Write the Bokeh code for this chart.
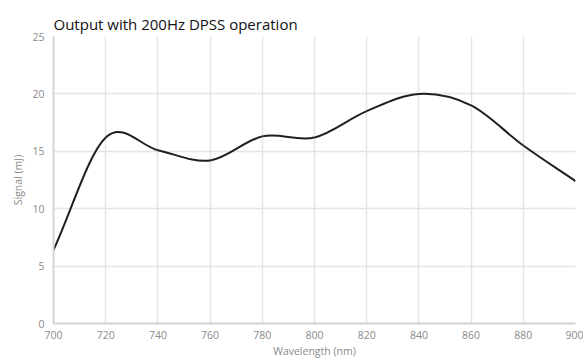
import numpy as np
from bokeh.plotting import figure
from bokeh.models import Range1d, FixedTicker, Title
from bokeh.embed import file_html
from bokeh.resources import INLINE

# Output energy vs wavelength at 200 Hz DPSS pumping
wavelength_nm = [700, 720, 740, 760, 780, 800, 820, 840, 860, 880, 900]
signal_mj = [6.4, 16.2, 15.1, 14.2, 16.3, 16.2, 18.5, 20.0, 19.0, 15.5, 12.4]
x_ticks = [700, 720, 740, 760, 780, 800, 820, 840, 860, 880, 900]
y_ticks = [0, 5, 10, 15, 20, 25]

p = figure(frame_width=522, frame_height=287, output_backend="svg",
           toolbar_location=None,
           x_range=Range1d(700, 900), y_range=Range1d(0, 25),
           min_border_left=53, min_border_right=8, min_border_top=36,
           min_border_bottom=0)

p.title = Title(text="Output with 200Hz DPSS operation", align="left",
                text_font="Open Sans", text_font_size="15px",
                text_font_style="normal", text_color="#111111",
                offset=0, standoff=6)

# smooth curve: cubic Bezier segments with Catmull-Rom tangents
xs = np.array(wavelength_nm, dtype=float)
ys = np.array(signal_mj, dtype=float)
n = len(xs)
mx = np.empty(n)
my = np.empty(n)
mx[1:-1] = (xs[2:] - xs[:-2]) / 2
my[1:-1] = (ys[2:] - ys[:-2]) / 2
mx[0], my[0] = xs[1] - xs[0], ys[1] - ys[0]
mx[-1], my[-1] = xs[-1] - xs[-2], ys[-1] - ys[-2]
p.bezier(x0=xs[:-1], y0=ys[:-1], x1=xs[1:], y1=ys[1:],
         cx0=xs[:-1] + mx[:-1] / 3, cy0=ys[:-1] + my[:-1] / 3,
         cx1=xs[1:] - mx[1:] / 3, cy1=ys[1:] - my[1:] / 3,
         line_color="#1f1f1f", line_width=2)

p.outline_line_color = None
for ax in (p.xaxis[0], p.yaxis[0]):
    ax.major_tick_line_color = None
    ax.minor_tick_line_color = None
    ax.major_tick_out = 0
    ax.major_tick_in = 0
    ax.axis_line_color = "#d4d4d4"
    ax.axis_line_width = 2
    ax.major_label_text_font = "Open Sans"
    ax.major_label_text_font_size = "10.5px"
    ax.major_label_text_color = "#8a8a8a"
    ax.axis_label_text_font = "Open Sans"
    ax.axis_label_text_font_size = "10.5px"
    ax.axis_label_text_font_style = "normal"
    ax.axis_label_text_color = "#8a8a8a"

p.xaxis.ticker = FixedTicker(ticks=x_ticks)
p.yaxis.ticker = FixedTicker(ticks=y_ticks)
p.xaxis.axis_label = "Wavelength (nm)"
p.yaxis.axis_label = "Signal (mJ)"
p.xaxis.major_label_standoff = 7
p.yaxis.major_label_standoff = 9
p.xaxis.axis_label_standoff = 2
p.yaxis.axis_label_standoff = 4

p.xgrid.grid_line_color = "#e4e4e4"
p.ygrid.grid_line_color = "#e4e4e4"
p.xgrid.grid_line_width = 1.5
p.ygrid.grid_line_width = 1.5
p.xgrid.ticker = FixedTicker(ticks=x_ticks)
p.ygrid.ticker = FixedTicker(ticks=y_ticks)

open("out.html", "w").write(file_html(p, INLINE))
